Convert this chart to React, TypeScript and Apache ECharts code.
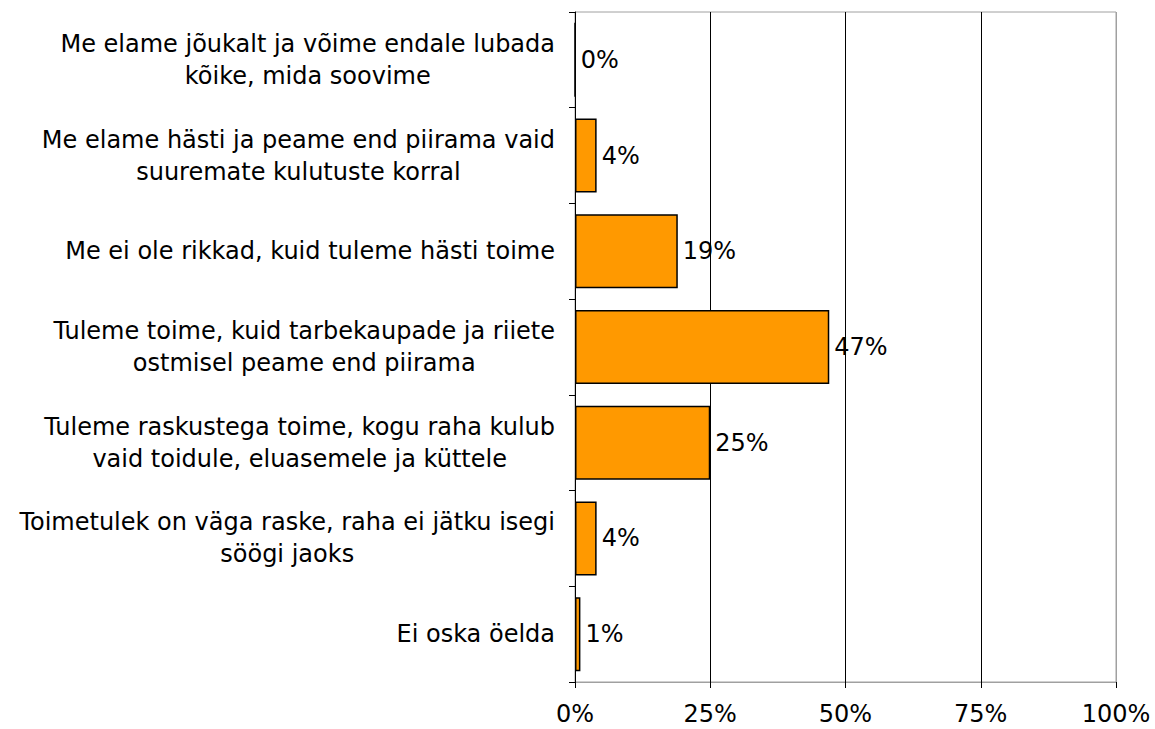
import React, { useEffect, useRef } from "react";
import * as echarts from "echarts";

const categories: string[] = [
  "Me elame jõukalt ja võime endale lubada\nkõike, mida soovime",
  "Me elame hästi ja peame end piirama vaid\nsuuremate kulutuste korral",
  "Me ei ole rikkad, kuid tuleme hästi toime",
  "Tuleme toime, kuid tarbekaupade ja riiete\nostmisel peame end piirama",
  "Tuleme raskustega toime, kogu raha kulub\nvaid toidule, eluasemele ja küttele",
  "Toimetulek on väga raske, raha ei jätku isegi\nsöögi jaoks",
  "Ei oska öelda",
];
const values: number[] = [0, 4, 19, 47, 25, 4, 1];
const xTicks: number[] = [0, 25, 50, 75, 100];

const FONT = "DejaVu Sans, Verdana, sans-serif";
const FS = 24;

export default function App() {
  const ref = useRef<HTMLDivElement>(null);
  useEffect(() => {
    if (!ref.current) return;
    const chart = echarts.init(ref.current, null, { renderer: "svg" });
    chart.setOption({
      animation: false,
      backgroundColor: "#fff",
      grid: {
        left: 575,
        right: 39,
        top: 12,
        bottom: 47,
        show: true,
        borderColor: "#a0a0a0",
        borderWidth: 1,
        containLabel: false,
      },
      xAxis: {
        type: "value",
        min: xTicks[0],
        max: xTicks[xTicks.length - 1],
        interval: 25,
        axisLine: { show: true, lineStyle: { color: "#a0a0a0", width: 1 } },
        axisTick: { show: true, length: 6, lineStyle: { color: "#000" } },
        axisLabel: {
          formatter: "{value}%",
          color: "#000",
          fontFamily: FONT,
          fontSize: FS,
          margin: 20,
        },
        splitLine: {
          show: true,
          lineStyle: { color: ["#a0a0a0", "#000", "#000", "#000", "#a0a0a0"], width: 1 },
        },
      },
      yAxis: {
        type: "category",
        inverse: true,
        data: categories,
        axisLine: { show: true, lineStyle: { color: "#000", width: 1 } },
        axisTick: { show: true, length: 6, lineStyle: { color: "#000" } },
        axisLabel: {
          margin: 20,
          color: "#000",
          fontFamily: FONT,
          fontSize: FS,
          lineHeight: 32,
          formatter: (v: string) =>
            v
              .split("\n")
              .map((l) => `{c|${l}}`)
              .join("\n"),
          rich: {
            c: {
              align: "center",
              color: "#000",
              fontFamily: FONT,
              fontSize: FS,
              lineHeight: 32,
            },
          },
        },
        splitLine: { show: false },
      },
      series: [
        {
          type: "bar",
          data: values,
          barWidth: 74,
          itemStyle: { color: "#FF9900", borderColor: "#000", borderWidth: 1.5 },
          label: {
            show: true,
            position: "right",
            distance: 5,
            formatter: "{c}%",
            color: "#000",
            fontFamily: FONT,
            fontSize: FS,
          },
        },
      ],
    });
    return () => chart.dispose();
  }, []);
  return (
    <div
      ref={ref}
      style={{ position: "absolute", left: 0, top: 0, width: 1155, height: 729 }}
    />
  );
}
